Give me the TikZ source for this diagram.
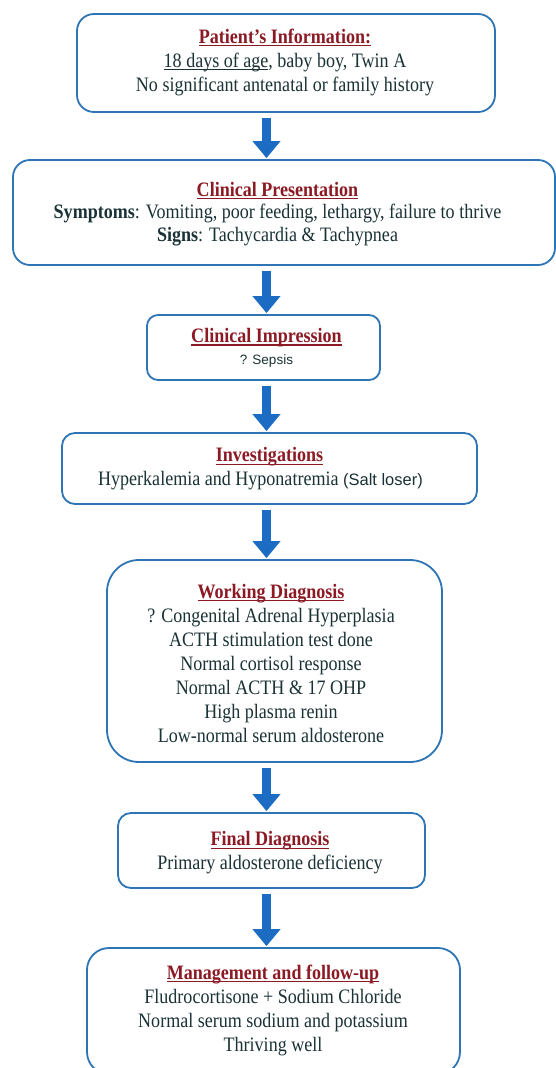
\documentclass[tikz,border=0pt]{standalone}
\usepackage{fontspec}
\setmainfont{Liberation Serif}[FakeStretch=0.88]
\newfontfamily\sansf{Liberation Sans}
\usetikzlibrary{arrows.meta}
\definecolor{boxblue}{RGB}{46,117,182}
\definecolor{arrowblue}{RGB}{28,108,196}
\definecolor{titlered}{RGB}{140,26,36}
\definecolor{bodytext}{RGB}{26,50,54}
\newcommand{\uln}[1]{\setbox0\hbox{#1}\leavevmode\rlap{\rule[-2.8pt]{\wd0}{1.2pt}}\box0}
\newcommand{\ttl}[1]{{\color{titlered}\bfseries\uln{#1}}}
\tikzset{
 box/.style={draw=boxblue, line width=1.8pt, rounded corners=15pt, inner sep=0pt, fill=white},
 txt/.style={align=center, text=bodytext, inner sep=0pt, font=\fontsize{20.5}{24}\selectfont},
 flow/.style={draw=arrowblue, line width=9.5pt, -{Triangle[width=27pt,length=17pt]}, shorten <=5pt, shorten >=1pt}
}
\begin{document}
\begin{tikzpicture}[x=1pt,y=-1pt]
\path[use as bounding box] (0,0) rectangle (556,1068);
\clip (0,0) rectangle (556,1068);
\fill[white] (0,0) rectangle (556,1068);
% boxes
\node[box, rounded corners=17pt, minimum width=418pt, minimum height=98pt] (b1) at (286,63) {};
\node[box, rounded corners=17pt, minimum width=542pt, minimum height=105pt] (b2) at (284,212.5) {};
\node[box, rounded corners=11pt, minimum width=233pt, minimum height=65pt] (b3) at (263.5,347.5) {};
\node[box, rounded corners=13pt, minimum width=415pt, minimum height=71pt] (b4) at (269.5,468.5) {};
\node[box, rounded corners=32pt, minimum width=335pt, minimum height=202pt] (b5) at (274.5,661) {};
\node[box, rounded corners=13pt, minimum width=307pt, minimum height=75pt] (b6) at (271.5,850.5) {};
\node[box, rounded corners=22pt, minimum width=373pt, minimum height=126pt] (b7) at (273.5,1011) {};
% texts
\node[txt] (t1) at (285,62) {\ttl{Patient’s Information:}\\ \uln{18 days of age}, baby boy, Twin A\\ No significant antenatal or family history};
\node[txt, font=\fontsize{20.5}{22.5}\selectfont] (t2) at (277.5,214) {\ttl{Clinical Presentation}\\ \textbf{Symptoms}: Vomiting, poor feeding, lethargy, failure to thrive\\ \textbf{Signs}: Tachycardia \& Tachypnea};
\node[txt] (t3) at (266.5,348) {\ttl{Clinical Impression}\\[-2pt] {\sansf\fontsize{13.5}{16}\selectfont ? Sepsis}};
\node[txt] (t4) at (269.5,469) {\ttl{Investigations}\\ Hyperkalemia and Hyponatremia {\sansf\fontsize{16.5}{18}\selectfont (Salt loser)}\hspace*{18pt}};
\node[txt] (t5) at (271,663) {\ttl{Working Diagnosis}\\ ? Congenital Adrenal Hyperplasia\\ ACTH stimulation test done\\ Normal cortisol response\\ Normal ACTH \& 17 OHP\\ High plasma renin\\ Low-normal serum aldosterone};
\node[txt] (t6) at (270,853) {\ttl{Final Diagnosis}\\ Primary aldosterone deficiency};
\node[txt] (t7) at (273,1010) {\ttl{Management and follow-up}\\ Fludrocortisone + Sodium Chloride\\ Normal serum sodium and potassium\\ Thriving well};
% arrows
\coordinate (ax) at (266.5,0);
\draw[flow] (ax |- b1.south) -- (ax |- b2.north);
\draw[flow] (ax |- b2.south) -- (ax |- b3.north);
\draw[flow] (ax |- b3.south) -- (ax |- b4.north);
\draw[flow] (ax |- b4.south) -- (ax |- b5.north);
\draw[flow] (ax |- b5.south) -- (ax |- b6.north);
\draw[flow] (ax |- b6.south) -- (ax |- b7.north);
\end{tikzpicture}
\end{document}
